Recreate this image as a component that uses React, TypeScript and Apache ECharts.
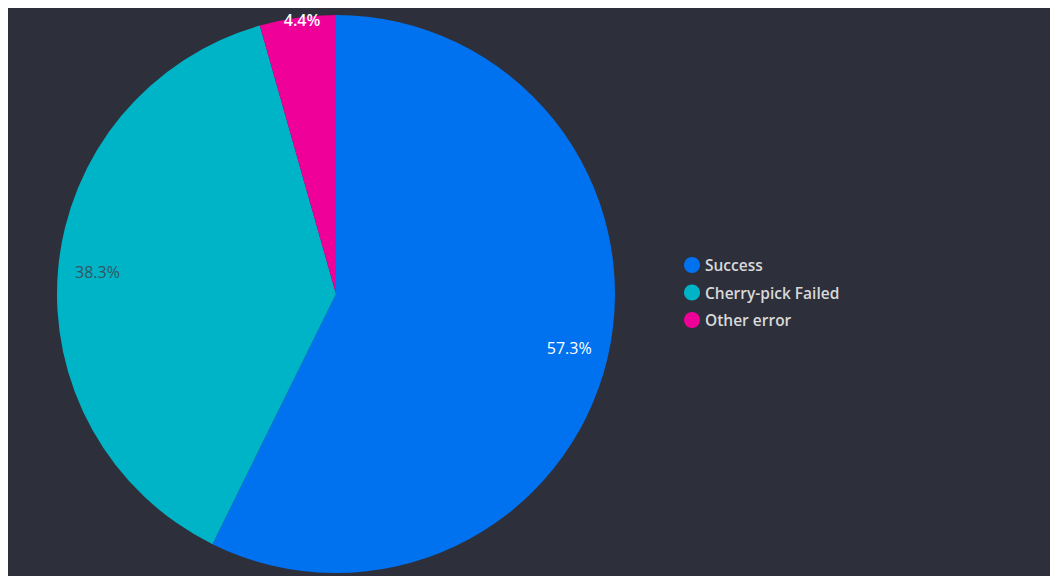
import React, { useEffect, useRef } from "react";
import * as echarts from "echarts";

const categories = ["Success", "Cherry-pick Failed", "Other error"];
const values = [57.3, 38.3, 4.4];
const colors = ["#0072EF", "#00B4C7", "#EF0099"];
const labelColors = ["#FFFFFF", "#34555F", "#FFFFFF"];

export default function App() {
  const ref = useRef<HTMLDivElement>(null);
  useEffect(() => {
    if (!ref.current) return;
    const chart = echarts.init(ref.current, null, { renderer: "svg" });
    const font = "'Open Sans', 'Noto Sans', sans-serif";
    chart.setOption({
      animation: false,
      backgroundColor: "#2D2F3A",
      legend: {
        orient: "vertical",
        left: 677,
        top: 251,
        padding: 0,
        itemWidth: 16,
        itemHeight: 16,
        itemGap: 11.5,
        icon: "circle",
        data: categories,
        textStyle: { color: "#D8D9DA", fontSize: 15.5, fontWeight: 600, fontFamily: font },
      },
      series: [
        {
          type: "pie",
          name: "main",
          center: [329, 288],
          radius: [0, 279],
          startAngle: 90,
          clockwise: true,
          label: { show: false },
          labelLine: { show: false },
          itemStyle: { borderWidth: 0 },
          emphasis: { disabled: true },
          data: categories.map((c, i) => ({
            name: c,
            value: values[i],
            itemStyle: { color: colors[i] },
          })),
        },
        {
          type: "pie",
          name: "labels",
          center: [329, 288],
          radius: [194, 279],
          startAngle: 90,
          clockwise: true,
          silent: true,
          legendHoverLink: false,
          itemStyle: { color: "rgba(0,0,0,0)", borderWidth: 0 },
          labelLine: { show: false },
          emphasis: { disabled: true },
          label: {
            show: true,
            position: "inside",
            formatter: "{d}%",
            fontSize: 16,
            fontFamily: font,
          },
          labelLayout: (p: any) => (p.dataIndex === 2 ? { dx: -1, dy: -37 } : {}),
          data: categories.map((c, i) => ({
            name: c,
            value: values[i],
            itemStyle: { color: "rgba(0,0,0,0)" },
            label: { color: labelColors[i], fontWeight: i === 2 ? 600 : 400 },
          })),
        },
      ],
    });
    return () => chart.dispose();
  }, []);
  return (
    <div
      ref={ref}
      style={{ width: 1049, height: 570, position: "relative", left: -1, top: -2 }}
    />
  );
}
